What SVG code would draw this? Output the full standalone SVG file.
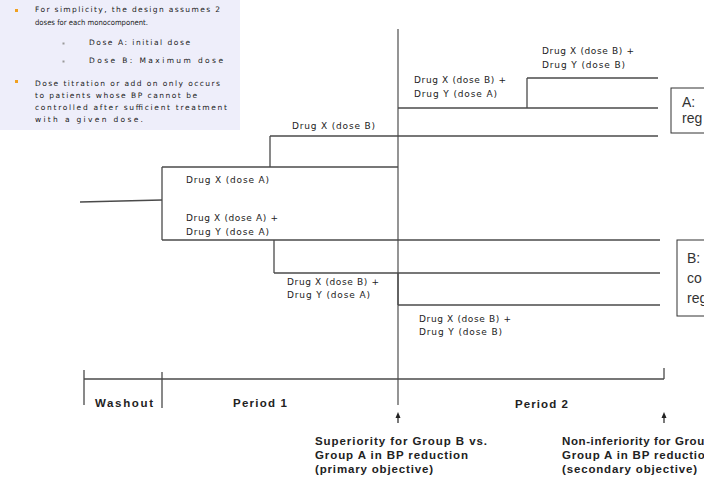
<svg xmlns="http://www.w3.org/2000/svg" width="704" height="488" viewBox="0 0 704 488">
<style>
.note{font-family:"DejaVu Sans",Verdana,sans-serif;font-size:7.5px;fill:#222}
.lbl{font-family:"DejaVu Sans",Verdana,sans-serif;font-size:9px;fill:#222}
.bold{font-family:"Liberation Sans",Arial,sans-serif;font-size:11.5px;font-weight:bold;fill:#222}
.big{font-family:"Liberation Sans",Arial,sans-serif;font-size:14px;fill:#333}
.ln{stroke:#4a4a4a;stroke-width:1.3;fill:none}
.ctr{stroke:#7a7a7a;stroke-width:1.6;fill:none}
.box{stroke:#333;stroke-width:1;fill:#fff}
.arr{stroke:#222;stroke-width:1.2}
.head{fill:#222}
</style>
<rect width="704" height="488" fill="#fff"/>
<rect x="0" y="0" width="240" height="130" fill="#eeeefa"/>

<g id="notes">
<rect x="15" y="9" width="3" height="3" fill="#f0a020"/>
<text class="note" x="35" y="12" textLength="185" lengthAdjust="spacing">For simplicity, the design assumes 2</text>
<text class="note" x="35" y="25" textLength="113" lengthAdjust="spacingAndGlyphs">doses for each monocomponent.</text>
<rect x="62.5" y="42.5" width="2" height="2" fill="#999"/>
<text class="note" x="89" y="45" textLength="101" lengthAdjust="spacing">Dose A: initial dose</text>
<rect x="62.5" y="60.5" width="2" height="2" fill="#999"/>
<text class="note" x="89" y="63" textLength="134" lengthAdjust="spacing">Dose B: Maximum dose</text>
<rect x="15" y="80" width="3" height="3" fill="#f0a020"/>
<text class="note" x="35" y="86" textLength="185" lengthAdjust="spacing">Dose titration or add on only occurs</text>
<text class="note" x="35" y="98" textLength="162" lengthAdjust="spacing">to patients whose BP cannot be</text>
<text class="note" x="35" y="110" textLength="192" lengthAdjust="spacing">controlled after sufficient treatment</text>
<text class="note" x="35" y="122" textLength="108" lengthAdjust="spacing">with a given dose.</text>
</g>

<g id="connectors">
<line class="ctr" x1="398" y1="29" x2="398" y2="405"/>
<line class="ln" x1="80" y1="202" x2="162" y2="200"/>
<line class="ln" x1="162" y1="167" x2="162" y2="240"/>
<line class="ln" x1="162" y1="167" x2="398" y2="167"/>
<line class="ln" x1="270" y1="167" x2="270" y2="136"/>
<line class="ln" x1="270" y1="136" x2="658" y2="136"/>
<line class="ln" x1="398" y1="108" x2="658" y2="108"/>
<line class="ln" x1="527" y1="108" x2="527" y2="78"/>
<line class="ln" x1="527" y1="78" x2="658" y2="78"/>
<line class="ln" x1="162" y1="240" x2="660" y2="240"/>
<line class="ln" x1="274" y1="240" x2="274" y2="273"/>
<line class="ln" x1="274" y1="273" x2="660" y2="273"/>
<line class="ln" x1="398" y1="273" x2="398" y2="305"/>
<line class="ln" x1="398" y1="305" x2="660" y2="305"/>
<line class="ln" x1="84" y1="379" x2="664" y2="379"/>
<line class="ln" x1="84" y1="370" x2="84" y2="405"/>
<line class="ln" x1="162" y1="372" x2="162" y2="408"/>
<line class="ln" x1="664" y1="368" x2="664" y2="379"/>
<line class="arr" x1="398" y1="423" x2="398" y2="416"/>
<polygon class="head" points="398,412 395.5,418 400.5,418"/>
<line class="arr" x1="664" y1="423" x2="664" y2="416"/>
<polygon class="head" points="664,412 661.5,418 666.5,418"/>
</g>

<g id="labels">
<text class="lbl" x="542" y="54" textLength="92" lengthAdjust="spacing">Drug X (dose B) +</text>
<text class="lbl" x="542" y="68" textLength="83" lengthAdjust="spacing">Drug Y (dose B)</text>
<text class="lbl" x="414" y="83" textLength="92" lengthAdjust="spacing">Drug X (dose B) +</text>
<text class="lbl" x="414" y="97" textLength="83" lengthAdjust="spacing">Drug Y (dose A)</text>
<text class="lbl" x="292" y="129" textLength="83" lengthAdjust="spacing">Drug X (dose B)</text>
<text class="lbl" x="186" y="183" textLength="83" lengthAdjust="spacing">Drug X (dose A)</text>
<text class="lbl" x="186" y="221" textLength="92" lengthAdjust="spacing">Drug X (dose A) +</text>
<text class="lbl" x="186" y="235" textLength="83" lengthAdjust="spacing">Drug Y (dose A)</text>
<text class="lbl" x="287" y="285" textLength="92" lengthAdjust="spacing">Drug X (dose B) +</text>
<text class="lbl" x="287" y="298" textLength="83" lengthAdjust="spacing">Drug Y (dose A)</text>
<text class="lbl" x="419" y="322" textLength="92" lengthAdjust="spacing">Drug X (dose B) +</text>
<text class="lbl" x="419" y="335" textLength="83" lengthAdjust="spacing">Drug Y (dose B)</text>
</g>

<g id="boxA">
<rect class="box" x="671" y="88" width="40" height="45"/>
<text class="big" x="682" y="107">A:</text>
<text class="big" x="682" y="123">reg</text>
</g>
<g id="boxB">
<rect class="box" x="677" y="240" width="40" height="76"/>
<text class="big" x="687" y="263">B:</text>
<text class="big" x="687" y="283">co</text>
<text class="big" x="687" y="303">reg</text>
</g>

<g id="periods">
<text class="bold" x="95" y="407" textLength="58" lengthAdjust="spacing">Washout</text>
<text class="bold" x="233" y="407" textLength="54" lengthAdjust="spacing">Period 1</text>
<text class="bold" x="515" y="408" textLength="53" lengthAdjust="spacing">Period 2</text>
</g>

<g id="objective1">
<text class="bold" x="315" y="445" textLength="172" lengthAdjust="spacing">Superiority for Group B vs.</text>
<text class="bold" x="315" y="459" textLength="153" lengthAdjust="spacing">Group A in BP reduction</text>
<text class="bold" x="315" y="473" textLength="118" lengthAdjust="spacing">(primary objective)</text>
</g>
<g id="objective2">
<text class="bold" x="562" y="445" letter-spacing="0.6">Non-inferiority for Group B vs.</text>
<text class="bold" x="562" y="459" letter-spacing="0.8">Group A in BP reduction</text>
<text class="bold" x="562" y="473" textLength="135" lengthAdjust="spacing">(secondary objective)</text>
</g>
</svg>
